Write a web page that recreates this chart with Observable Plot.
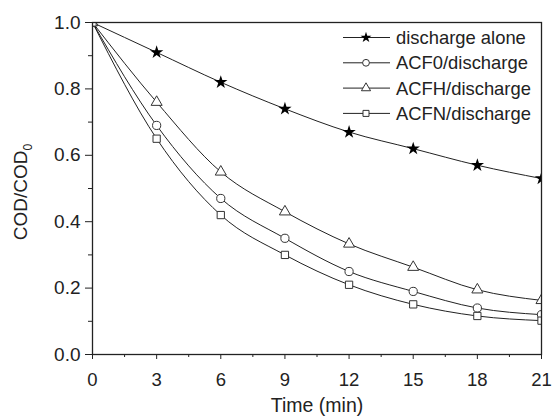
<!DOCTYPE html>
<html><head><meta charset="utf-8">
<script src="https://cdn.jsdelivr.net/npm/d3@7"></script>
<script src="https://cdn.jsdelivr.net/npm/@observablehq/plot@0.6"></script>
<style>body{margin:0;background:#fff}</style>
</head><body><div id="chart"></div>
<script>
const times = [0, 3, 6, 9, 12, 15, 18, 21];
const seriesNames = ["discharge alone", "ACF0/discharge", "ACFH/discharge", "ACFN/discharge"];
const seriesSymbols = ["star", "circle", "triangle", "square"];
const dischargeAlone = [1.0, 0.91, 0.82, 0.74, 0.67, 0.62, 0.57, 0.53];
const acf0 = [1.0, 0.69, 0.47, 0.35, 0.25, 0.19, 0.14, 0.12];
const acfh = [1.0, 0.76, 0.55, 0.43, 0.333, 0.263, 0.195, 0.163];
const acfn = [1.0, 0.65, 0.42, 0.30, 0.21, 0.151, 0.116, 0.102];
const yMajor = [0, 0.2, 0.4, 0.6, 0.8, 1.0];
const yMinor = [0.1, 0.3, 0.5, 0.7, 0.9];
const xMajor = [0, 3, 6, 9, 12, 15, 18, 21];
const xMinor = [1.5, 4.5, 7.5, 10.5, 13.5, 16.5, 19.5];

const values = [dischargeAlone, acf0, acfh, acfn];
const data = [];
seriesNames.forEach((s, i) => times.forEach((t, j) => data.push({series: s, symbol: seriesSymbols[i], t, v: values[i][j]})));

const ink = "#222";
const font = "'Liberation Sans', Arial, sans-serif";

const chart = Plot.plot({
  width: 552, height: 418,
  marginLeft: 92, marginRight: 11, marginTop: 22, marginBottom: 64,
  style: {fontFamily: font, fontSize: "19px", color: ink, background: "#fff"},
  x: {domain: [0, 21]},
  y: {domain: [0, 1]},
  symbol: {domain: seriesNames, range: seriesSymbols},
  marks: [
    Plot.line(data, {x: "t", y: "v", z: "series", curve: "monotone-x", stroke: ink, strokeWidth: 1, clip: true}),
    Plot.dot(data.filter(d => d.symbol === "star"), {x: "t", y: "v", symbol: "star", r: 4.2, fill: "#000", stroke: "none", clip: true}),
    Plot.dot(data.filter(d => d.symbol !== "star"), {x: "t", y: "v", symbol: "series", r: 4.1, fill: "#fff", stroke: "#333", strokeWidth: 1, clip: true}),
    Plot.axisY(yMajor, {tickSize: 7, tickPadding: 5, tickFormat: d3.format(".1f"), label: null, stroke: ink, fontSize: 19}),
    Plot.axisY(yMinor, {tickSize: 4, text: null, label: null, stroke: ink}),
    Plot.axisX(xMajor, {tickSize: 5, tickPadding: 13, label: null, stroke: ink, fontSize: 18.5}),
    Plot.axisX(xMinor, {tickSize: 3, text: null, label: null, stroke: ink}),
    Plot.frame({stroke: ink, strokeWidth: 1.3}),
    Plot.text(["Time (min)"], {frameAnchor: "bottom", dy: 51, lineAnchor: "middle", fontSize: 19.5, fill: ink})
  ]
});
document.getElementById("chart").appendChild(chart);

const svg = d3.select(chart);
// y-axis label with subscript
const yl = svg.append("text")
  .attr("transform", "translate(27,192) rotate(-90)")
  .attr("text-anchor", "middle")
  .attr("font-family", font).attr("font-size", 19).attr("fill", ink);
yl.append("tspan").text("COD/COD");
yl.append("tspan").attr("font-size", 12).attr("dy", 5).text("0");

// legend
const symMap = {star: d3.symbolStar, circle: d3.symbolCircle, triangle: d3.symbolTriangle, square: d3.symbolSquare};
const lg = svg.append("g").attr("font-family", font).attr("font-size", 18.4).attr("fill", ink).attr("text-anchor", "start");
seriesNames.forEach((name, i) => {
  const y = 37.5 + i * 25.3;
  const g = lg.append("g").attr("transform", `translate(0,${y})`);
  g.append("line").attr("x1", 343).attr("x2", 390).attr("y1", 0).attr("y2", 0).attr("stroke", ink).attr("stroke-width", 1);
  const r = 3.4;
  g.append("path").attr("transform", "translate(366,0)")
    .attr("d", d3.symbol(symMap[seriesSymbols[i]], Math.PI * r * r)())
    .attr("fill", seriesSymbols[i] === "star" ? "#000" : "#fff")
    .attr("stroke", seriesSymbols[i] === "star" ? "none" : "#333");
  g.append("text").attr("x", 396).attr("y", 0).attr("dy", "0.35em").text(name);
});
</script></body></html>
